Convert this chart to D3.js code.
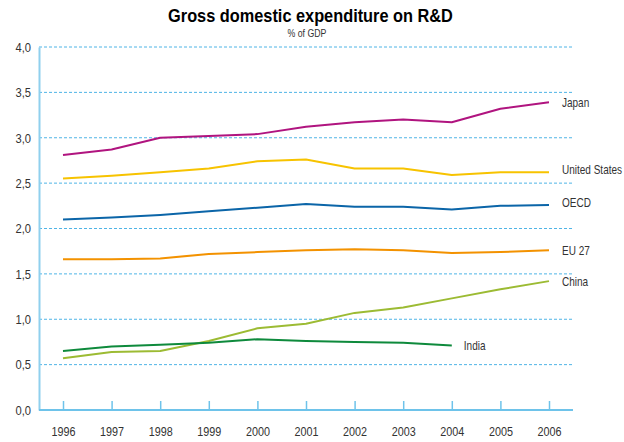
<!DOCTYPE html>
<html><head><meta charset="utf-8">
<script src="https://cdn.jsdelivr.net/npm/d3@7"></script>
<style>
body{margin:0;background:#fff;}
svg text{font-family:"Liberation Sans",Arial,sans-serif;}
</style></head>
<body><svg id="chart" width="624" height="442"></svg>
<script>
const years = [1996,1997,1998,1999,2000,2001,2002,2003,2004,2005,2006];
const japan = [2.81,2.87,3.00,3.02,3.04,3.12,3.17,3.20,3.17,3.32,3.39];
const unitedStates = [2.55,2.58,2.62,2.66,2.74,2.76,2.66,2.66,2.59,2.62,2.62];
const oecd = [2.10,2.12,2.15,2.19,2.23,2.27,2.24,2.24,2.21,2.25,2.26];
const eu27 = [1.66,1.66,1.67,1.72,1.74,1.76,1.77,1.76,1.73,1.74,1.76];
const china = [0.57,0.64,0.65,0.76,0.90,0.95,1.07,1.13,1.23,1.33,1.42];
const india = [0.65,0.70,0.72,0.74,0.78,0.76,0.75,0.74,0.71];
const yTicks = [0,0.5,1.0,1.5,2.0,2.5,3.0,3.5,4.0];
const seriesNames = ["Japan","United States","OECD","EU 27","China","India"];
const seriesColors = ["#b0147f","#f7c300","#0b65a8","#f39200","#9cbb33","#0e8a3c"];

const series = [japan,unitedStates,oecd,eu27,china,india].map((v,i)=>({name:seriesNames[i],color:seriesColors[i],values:v}));

const svg = d3.select("#chart");
const x = d3.scaleLinear().domain([1996,2006]).range([63,549]);
const y = d3.scaleLinear().domain([0,4]).range([410,47]);
const left = 39, right = 573;

// horizontal condensing helper: scale a text around its anchor point
function condense(sel, s){
  sel.each(function(){
    const t = d3.select(this);
    const ax = +t.attr("x")||0, ay = +t.attr("y")||0;
    t.attr("transform",`translate(${ax},${ay}) scale(${s},1) translate(${-ax},${-ay})`);
  });
}

// gridlines
svg.append("g").selectAll("line").data(yTicks.filter(d=>d>0)).join("line")
  .attr("x1",left).attr("x2",right)
  .attr("y1",d=>y(d)).attr("y2",d=>y(d))
  .attr("stroke","#4fb4e6")
  .attr("stroke-width",1).attr("stroke-dasharray","3,2");

// y axis
const yAxis = d3.axisLeft(y).tickValues(yTicks).tickSize(0).tickPadding(8)
  .tickFormat(d=>d3.format(".1f")(d).replace(".",","));
const gy = svg.append("g").attr("transform",`translate(${left},0)`).call(yAxis);
gy.select(".domain").attr("stroke","#8fd0ee").attr("stroke-width",2);
gy.selectAll("text").attr("font-size",12).attr("fill","#333").attr("dy","0.36em");
condense(gy.selectAll("text"),0.93);

// x axis
const xAxis = d3.axisBottom(x).tickValues(years).tickSize(-9).tickPadding(0).tickFormat(d3.format("d"));
const gx = svg.append("g").attr("transform","translate(0,410)").call(xAxis);
gx.select(".domain").attr("d",`M${left},0H${right}`).attr("stroke","#6ec3ea").attr("stroke-width",2);
gx.selectAll(".tick line").attr("stroke","#6ec3ea").attr("stroke-width",1.5);
gx.selectAll("text").attr("y",26).attr("dy",0).attr("font-size",12).attr("fill","#333");
condense(gx.selectAll("text"),0.9);

// lines
const line = d3.line().x((d,i)=>x(years[i])).y(d=>y(d));
svg.append("g").selectAll("path").data(series).join("path")
  .attr("d",d=>line(d.values)).attr("fill","none")
  .attr("stroke",d=>d.color).attr("stroke-width",2).attr("stroke-linejoin","round");

// labels
const labelOffsets = {"Japan":0,"United States":-2.5,"OECD":-2,"EU 27":0,"China":0,"India":-0.5};
const labelGap = {"India":12};
const labels = svg.append("g").selectAll("text").data(series).join("text")
  .attr("x",d=>x(years[d.values.length-1])+(labelGap[d.name]||13))
  .attr("y",d=>y(d.values[d.values.length-1])+labelOffsets[d.name]+4.6)
  .attr("font-size",13).attr("fill","#333").text(d=>d.name);
condense(labels,0.77);

// title
const title = svg.append("text").attr("x",310.5).attr("y",21.7).attr("text-anchor","middle")
  .attr("font-size",18.5).attr("font-weight","bold").attr("fill","#000")
  .text("Gross domestic expenditure on R&D");
condense(title, 285/title.node().getComputedTextLength());
const sub = svg.append("text").attr("x",307).attr("y",37).attr("text-anchor","middle")
  .attr("font-size",10.5).attr("fill","#333").text("% of GDP");
condense(sub, 39/sub.node().getComputedTextLength());
</script></body></html>
